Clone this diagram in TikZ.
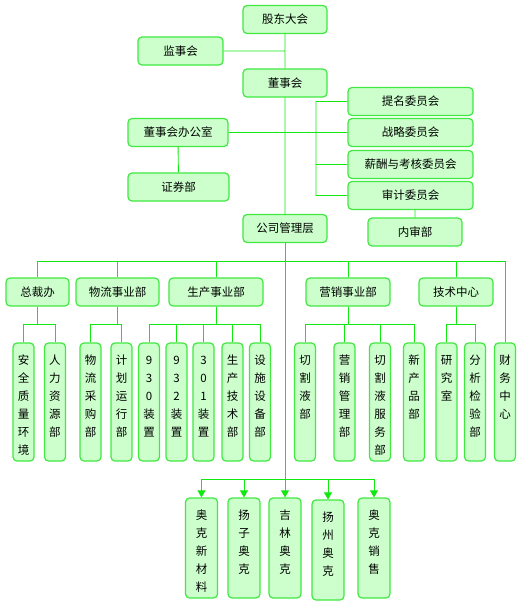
\documentclass[tikz,border=0pt]{standalone}
\usepackage{fontspec}
\setmainfont{Noto Sans CJK SC}
\usetikzlibrary{arrows.meta}
\definecolor{boxfill}{RGB}{204,255,204}
\definecolor{boxline}{RGB}{64,232,64}
\definecolor{linkcol}{RGB}{16,232,16}
\newcommand\vcol[2]{\parbox[c][#1pt][t]{20pt}{\centering\rule{0pt}{21pt}#2}}

\begin{document}
\begin{tikzpicture}[
  x=1pt, y=-1pt,
  font=\fontsize{11.5}{18}\selectfont,
  box/.style={draw=boxline, fill=boxfill, rounded corners=4pt, line width=1.2pt, inner sep=0pt},
  hbox/.style={box, minimum width=#1, minimum height=28},
  vbox/.style={box, minimum width=#1},
  link/.style={draw=linkcol, line width=0.9pt},
  tip/.style={link, -{Triangle[width=8pt,length=7pt]}}
  ]
  \useasboundingbox (0,0) rectangle (526,605);

  % upper part
  \node[hbox=84]  (NTop)    at (285,19.5)  {股东大会};
  \node[hbox=85]  (NSup)    at (180.5,51)  {监事会};
  \node[hbox=84]  (NBoard)  at (285,83)    {董事会};
  \node[hbox=100] (NOffice) at (178,132.5) {董事会办公室};
  \node[hbox=101] (NSec)    at (178.5,187) {证券部};
  \node[hbox=125] (NC1)     at (410.5,101.5) {提名委员会};
  \node[hbox=125] (NC2)     at (410.5,132.5) {战略委员会};
  \node[hbox=125] (NC3)     at (410.5,164.5) {薪酬与考核委员会};
  \node[hbox=125] (NC4)     at (410.5,195.5) {审计委员会};
  \node[hbox=94]  (NAudit)  at (415,232)   {内审部};
  \node[hbox=84]  (NMgmt)   at (285,228.5) {公司管理层};
  \coordinate (CBr) at (316,0);

  % second level
  \node[hbox=63] (N2A) at (37.5,292) {总裁办};
  \node[hbox=83] (N2B) at (117.5,292) {物流事业部};
  \node[hbox=94] (N2C) at (216,292) {生产事业部};
  \node[hbox=84] (N2D) at (348,292) {营销事业部};
  \node[hbox=74] (N2E) at (456,292) {技术中心};
  \coordinate (B2) at (0,261);
  \coordinate (B3) at (0,324);

  % third level
  \node[vbox=21] (N3A1) at (23.5,402)  {\vcol{118}{安\\全\\质\\量\\环\\境}};
  \node[vbox=21] (N3A2) at (55,402)    {\vcol{118}{人\\力\\资\\源\\部}};
  \node[vbox=21] (N3B1) at (90.5,402)  {\vcol{118}{物\\流\\采\\购\\部}};
  \node[vbox=21] (N3B2) at (121.5,402) {\vcol{118}{计\\划\\运\\行\\部}};
  \node[vbox=21] (N3C1) at (149,402)   {\vcol{118}{9\\3\\0\\装\\置}};
  \node[vbox=21] (N3C2) at (176.5,402) {\vcol{118}{9\\3\\2\\装\\置}};
  \node[vbox=21] (N3C3) at (203.5,402) {\vcol{118}{3\\0\\1\\装\\置}};
  \node[vbox=21] (N3C4) at (232.5,402) {\vcol{118}{生\\产\\技\\术\\部}};
  \node[vbox=21] (N3C5) at (260,402)   {\vcol{118}{设\\施\\设\\备\\部}};
  \node[vbox=21] (N3D1) at (305,402)   {\vcol{118}{切\\割\\液\\部}};
  \node[vbox=21] (N3D2) at (344.5,402) {\vcol{118}{营\\销\\管\\理\\部}};
  \node[vbox=21] (N3D3) at (380,402)   {\vcol{118}{切\\割\\液\\服\\务\\部}};
  \node[vbox=21] (N3D4) at (414,402)   {\vcol{118}{新\\产\\品\\部}};
  \node[vbox=21] (N3E1) at (446.5,402) {\vcol{118}{研\\究\\室}};
  \node[vbox=21] (N3E2) at (475,402)   {\vcol{118}{分\\析\\检\\验\\部}};
  \node[vbox=21] (N3F)  at (505,402)   {\vcol{118}{财\\务\\中\\心}};

  % bottom row
  \node[vbox=32] (NB1) at (201.5,548) {\vcol{100}{奥\\克\\新\\材\\料}};
  \node[vbox=32] (NB2) at (244,548)   {\vcol{100}{扬\\子\\奥\\克}};
  \node[vbox=32] (NB3) at (285,548)   {\vcol{100}{吉\\林\\奥\\克}};
  \node[vbox=32] (NB4) at (328,550)   {\vcol{100}{扬\\州\\奥\\克}};
  \node[vbox=32] (NB5) at (374,548)   {\vcol{100}{奥\\克\\销\\售}};
  \coordinate (B4) at (0,479);

  \path[link]
  (NTop)   -- (NBoard)
  (NSup.east) -- (NSup.east -| NTop)
  (NOffice.east) -- (NC2.west)
  (NOffice) -- (NSec)
  (NBoard) -- (NMgmt)
  (NC1.west) -- (NC1.west -| CBr) -- (NC4.west -| CBr) -- (NC4.west)
  (NC3.west) -- (NC3.west -| CBr)
  (NAudit.north) -- (NAudit.north |- NC4.south)
  ;

  \path[link]
  (N2A.north) -- (N2A.north |- B2) -- (N3F.north |- B2) -- (N3F.north)
  (N2B.north) -- (N2B.north |- B2)
  (N2C.north) -- (N2C.north |- B2)
  (N2D.north) -- (N2D.north |- B2)
  (N2E.north) -- (N2E.north |- B2)
  (N2A.south) -- (N2A.south |- B3)
  (N3A1.north) -- (N3A1.north |- B3) -- (N3A2.north |- B3) -- (N3A2.north)
  (N2B.south) -- (N2B.south |- B3)
  (N3B1.north) -- (N3B1.north |- B3) -- (N3B2.north |- B3) -- (N3B2.north)
  (N2C.south) -- (N2C.south |- B3)
  (N3C1.north) -- (N3C1.north |- B3) -- (N3C5.north |- B3) -- (N3C5.north)
  (N3C2.north) -- (N3C2.north |- B3)
  (N3C3.north) -- (N3C3.north |- B3)
  (N3C4.north) -- (N3C4.north |- B3)
  (N2D.south) -- (N2D.south |- B3)
  (N3D1.north) -- (N3D1.north |- B3) -- (N3D4.north |- B3) -- (N3D4.north)
  (N3D2.north) -- (N3D2.north |- B3)
  (N3D3.north) -- (N3D3.north |- B3)
  (N2E.south) -- (N2E.south |- B3)
  (N3E1.north) -- (N3E1.north |- B3) -- (N3E2.north |- B3) -- (N3E2.north)
  (NB1.north |- B4) -- (NB5.north |- B4)
  ;

  \draw[tip] (NMgmt) -- (NB3);
  \draw[tip] (NB1.north |- B4) -- (NB1.north);
  \draw[tip] (NB2.north |- B4) -- (NB2.north);
  \draw[tip] (NB4.north |- B4) -- (NB4.north);
  \draw[tip] (NB5.north |- B4) -- (NB5.north);
\end{tikzpicture}
\end{document}
